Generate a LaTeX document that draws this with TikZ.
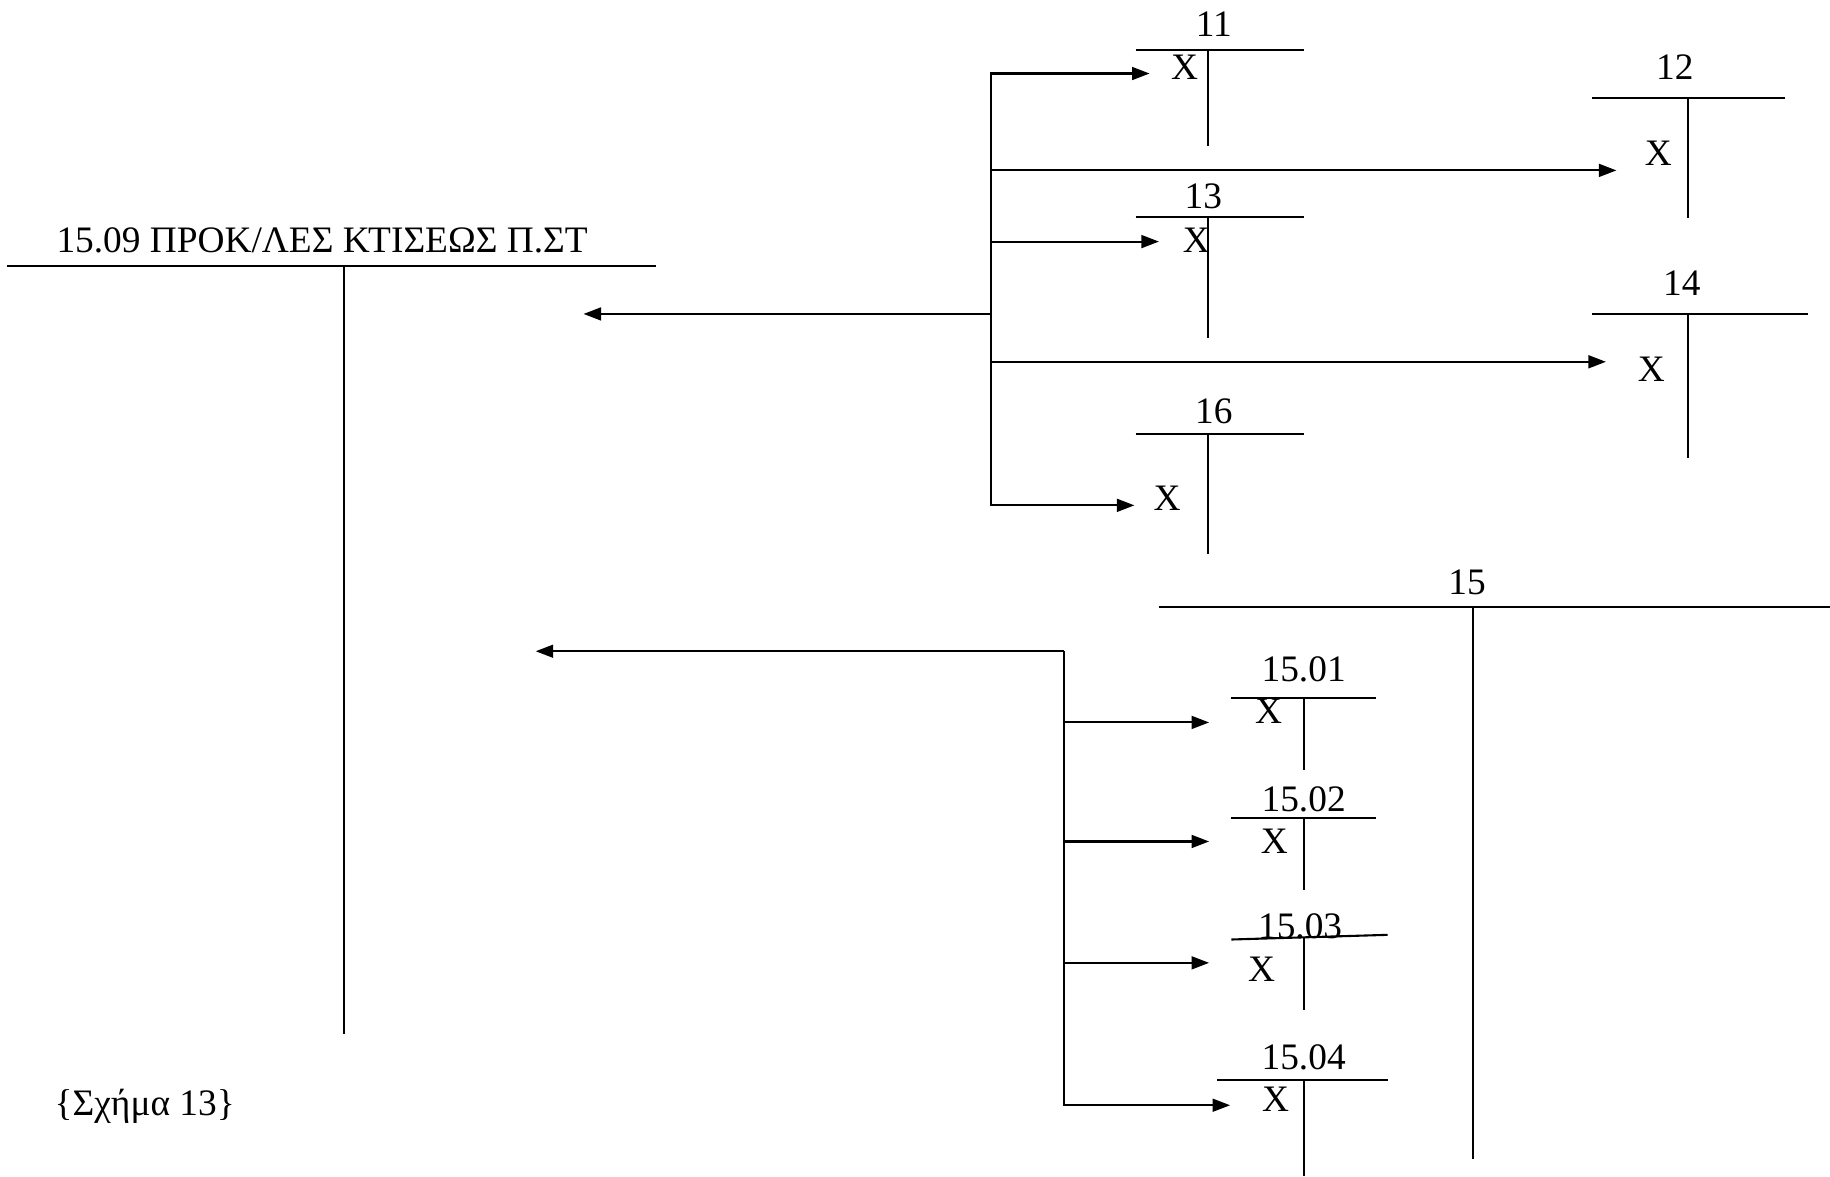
\documentclass[tikz,border=0pt]{standalone}
\usepackage{fontspec}
\setmainfont{Liberation Serif}
\usetikzlibrary{arrows.meta}
\begin{document}
\begin{tikzpicture}[x=1pt,y=-1pt, line width=1.8pt,
  lbl/.style={anchor=base, inner sep=0pt, font=\fontsize{32}{32}\selectfont},
  arr/.style={-{Triangle[length=15pt,width=11pt]}}]
\useasboundingbox (0,0) rectangle (1568,1008);

% main account
\node[lbl] (title) at (276,216) {15.09 ΠΡΟΚ/ΛΕΣ ΚΤΙΣΕΩΣ Π.ΣΤ};
\coordinate (mL) at (6,228); \coordinate (mR) at (562,228);
\coordinate (mT) at (295,228); \coordinate (mB) at (295,886);
\draw (mL) -- (mR); \draw (mT) -- (mB);

% caption
\node[lbl] (cap) at (124,956) {\{Σχήμα 13\}};

% upper group
\coordinate (j1) at (849,269);
\coordinate (tipA) at (500,269);
\draw[arr] (j1) -- (tipA);
\coordinate (tip11) at (985,63);
\coordinate (tip16) at (972,433);
\draw[arr] (j1) |- (tip11);
\draw[arr] (j1) |- (tip16);
\coordinate (s12) at (849,146); \coordinate (tip12) at (1385,146);
\coordinate (s13) at (849,207); \coordinate (tip13) at (993,207);
\coordinate (s14) at (849,310); \coordinate (tip14) at (1376,310);
\draw[arr] (s12) -- (tip12);
\draw[arr] (s13) -- (tip13);
\draw[arr] (s14) -- (tip14);

% T 11
\node[lbl] (l11) at (1040,31) {11};
\coordinate (h11a) at (973,43); \coordinate (h11b) at (1117,43);
\coordinate (v11a) at (1035,43); \coordinate (v11b) at (1035,125);
\draw (h11a) -- (h11b); \draw (v11a) -- (v11b);
\node[lbl] (x11) at (1015,68) {X};

% T 12
\node[lbl] (l12) at (1435,68) {12};
\coordinate (h12a) at (1364,84); \coordinate (h12b) at (1529,84);
\coordinate (v12a) at (1446,84); \coordinate (v12b) at (1446,187);
\draw (h12a) -- (h12b); \draw (v12a) -- (v12b);
\node[lbl] (x12) at (1421,142) {X};

% T 13
\node[lbl] (l13) at (1031,179) {13};
\coordinate (h13a) at (973,186); \coordinate (h13b) at (1117,186);
\coordinate (v13a) at (1035,186); \coordinate (v13b) at (1035,290);
\draw (h13a) -- (h13b); \draw (v13a) -- (v13b);
\node[lbl] (x13) at (1025,216) {X};

% T 14
\node[lbl] (l14) at (1441,253) {14};
\coordinate (h14a) at (1364,269); \coordinate (h14b) at (1549,269);
\coordinate (v14a) at (1446,269); \coordinate (v14b) at (1446,392);
\draw (h14a) -- (h14b); \draw (v14a) -- (v14b);
\node[lbl] (x14) at (1415,327) {X};

% T 16
\node[lbl] (l16) at (1040,363) {16};
\coordinate (h16a) at (973,372); \coordinate (h16b) at (1117,372);
\coordinate (v16a) at (1035,372); \coordinate (v16b) at (1035,475);
\draw (h16a) -- (h16b); \draw (v16a) -- (v16b);
\node[lbl] (x16) at (1000,437) {X};

% T 15
\node[lbl] (l15) at (1257,509) {15};
\coordinate (h15a) at (993,520); \coordinate (h15b) at (1568,520);
\coordinate (v15a) at (1262,520); \coordinate (v15b) at (1262,993);
\draw (h15a) -- (h15b); \draw (v15a) -- (v15b);

% lower group
\coordinate (j2) at (912,558);
\coordinate (tipB) at (459,558);
\draw[arr] (j2) -- (tipB);
\coordinate (tip1504) at (1054,947);
\draw[arr] (j2) |- (tip1504);
\coordinate (s1501) at (912,619); \coordinate (tip1501) at (1036,619);
\coordinate (s1502) at (912,721); \coordinate (tip1502) at (1036,721);
\coordinate (s1503) at (912,825); \coordinate (tip1503) at (1036,825);
\draw[arr] (s1501) -- (tip1501);
\draw[arr] (s1502) -- (tip1502);
\draw[arr] (s1503) -- (tip1503);

% T 15.01
\node[lbl] (l1501) at (1117,584) {15.01};
\coordinate (h1501a) at (1055,598); \coordinate (h1501b) at (1179,598);
\coordinate (v1501a) at (1117,598); \coordinate (v1501b) at (1117,660);
\draw (h1501a) -- (h1501b); \draw (v1501a) -- (v1501b);
\node[lbl] (x1501) at (1087,620) {X};

% T 15.02
\node[lbl] (l1502) at (1117,695) {15.02};
\coordinate (h1502a) at (1055,701); \coordinate (h1502b) at (1179,701);
\coordinate (v1502a) at (1117,701); \coordinate (v1502b) at (1117,763);
\draw (h1502a) -- (h1502b); \draw (v1502a) -- (v1502b);
\node[lbl] (x1502) at (1092,731) {X};

% T 15.03
\node[lbl] (l1503) at (1114,804) {15.03};
\coordinate (h1503a) at (1055,805); \coordinate (h1503b) at (1189,801);
\coordinate (v1503a) at (1117,803); \coordinate (v1503b) at (1117,865);
\draw (h1503a) -- (h1503b); \draw (v1503a) -- (v1503b);
\node[lbl] (x1503) at (1081,841) {X};

% T 15.04
\node[lbl] (l1504) at (1117,916) {15.04};
\coordinate (h1504a) at (1043,925); \coordinate (h1504b) at (1189,925);
\coordinate (v1504a) at (1117,925); \coordinate (v1504b) at (1117,1008);
\draw (h1504a) -- (h1504b); \draw (v1504a) -- (v1504b);
\node[lbl] (x1504) at (1093,952) {X};
\end{tikzpicture}
\end{document}
